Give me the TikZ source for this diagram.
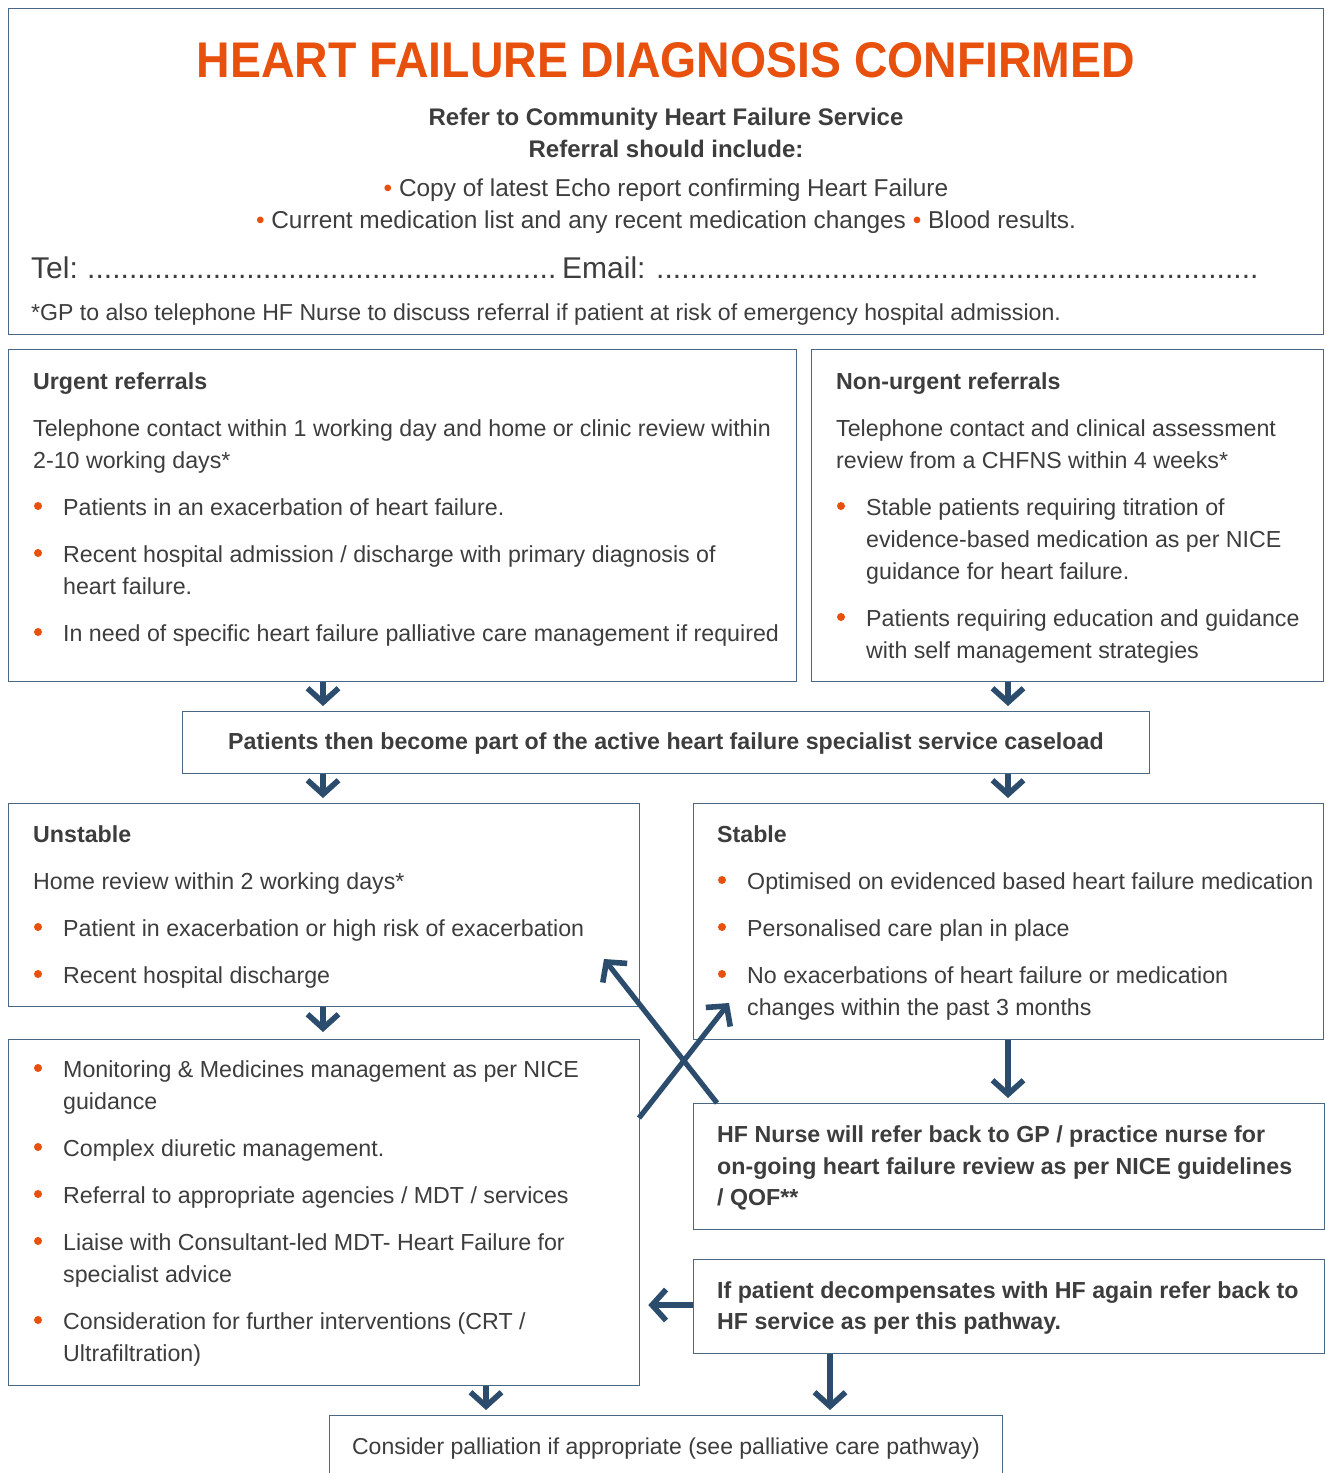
\documentclass[tikz,border=0pt]{standalone}
\usepackage{fontspec}
\usepackage{graphicx}
\setmainfont{Liberation Sans}
\usetikzlibrary{arrows.meta}
\definecolor{hforange}{HTML}{E8500E}
\definecolor{hfline}{HTML}{4A6786}
\definecolor{hfarrow}{HTML}{2B4C6D}
\definecolor{hftext}{HTML}{3D3D3D}
\begin{document}
\begin{tikzpicture}[x=1pt,y=-1pt,
 box/.style={draw=hfline, line width=1.3pt, anchor=north west, inner sep=0pt},
 txt/.style={anchor=base west, inner sep=0pt, text=hftext, font=\fontsize{23.2}{27}\selectfont},
 btxt/.style={txt, font=\fontsize{23.2}{27}\selectfont\bfseries},
 ctxt/.style={txt, anchor=base},
 cbtxt/.style={btxt, anchor=base},
 dot/.style={circle, fill=hforange, inner sep=0pt, minimum size=8pt},
 arr/.style={draw=hfarrow, line width=5.2pt, -{Straight Barb[length=14pt,width=31pt,line width=5.6pt]}}]
\useasboundingbox (0,0) rectangle (1325,1473);
\fill[white] (0,0) rectangle (1325,1473);
% boxes
\node[box, minimum width=1315pt, minimum height=326pt] (top) at (8,8) {};
\node[box, minimum width=788pt, minimum height=332pt] (urgent) at (8,349) {};
\node[box, minimum width=512pt, minimum height=332pt] (nonurgent) at (811,349) {};
\node[box, minimum width=967pt, minimum height=62pt] (caseload) at (182,711) {};
\node[box, minimum width=631pt, minimum height=203pt] (unstable) at (8,803) {};
\node[box, minimum width=630pt, minimum height=236pt] (stable) at (693,803) {};
\node[box, minimum width=631pt, minimum height=346pt] (mgmt) at (8,1039) {};
\node[box, minimum width=631pt, minimum height=126pt] (nurse) at (693,1103) {};
\node[box, minimum width=631pt, minimum height=94pt] (decomp) at (693,1259) {};
\node[box, minimum width=673pt, minimum height=70pt] (pall) at (329,1415) {};
% top box
\node[anchor=base, inner sep=0pt, text=hforange] (title) at (666,77) {\resizebox{938pt}{35pt}{\bfseries HEART FAILURE DIAGNOSIS CONFIRMED}};
\node[cbtxt, font=\fontsize{24}{28}\selectfont\bfseries] (t1) at (666,125) {Refer to Community Heart Failure Service};
\node[cbtxt, font=\fontsize{24}{28}\selectfont\bfseries] (t2) at (666,157) {Referral should include:};
\node[ctxt, font=\fontsize{24.4}{28}\selectfont] (t3) at (666,196) {{\color{hforange}•} Copy of latest Echo report confirming Heart Failure};
\node[ctxt, font=\fontsize{24.4}{28}\selectfont] (t4) at (666,228) {{\color{hforange}•} Current medication list and any recent medication changes {\color{hforange}•} Blood results.};
\node[txt, font=\fontsize{30}{34}\selectfont] (tel) at (31,278) {Tel:};
\node[txt, font=\fontsize{30}{34}\selectfont] (teld) at (87,278) {\hbox to 469pt{\xleaders\hbox{.}\hfill}};
\node[txt, font=\fontsize{30}{34}\selectfont] (email) at (562,278) {Email:};
\node[txt, font=\fontsize{30}{34}\selectfont] (emaild) at (656,278) {\hbox to 602pt{\xleaders\hbox{.}\hfill}};
\node[txt, font=\fontsize{23.1}{26}\selectfont] (foot) at (31,320) {*GP to also telephone HF Nurse to discuss referral if patient at risk of emergency hospital admission.};
% urgent
\node[btxt] (u0) at (33,389) {Urgent referrals};
\node[txt] (u1) at (33,436) {Telephone contact within 1 working day and home or clinic review within};
\node[txt] (u2) at (33,468) {2-10 working days*};
\node[dot] (ub1) at (38,506) {};
\node[txt] (u3) at (63,515) {Patients in an exacerbation of heart failure.};
\node[dot] (ub2) at (38,553) {};
\node[txt] (u4) at (63,562) {Recent hospital admission / discharge with primary diagnosis of};
\node[txt] (u5) at (63,594) {heart failure.};
\node[dot] (ub3) at (38,632) {};
\node[txt] (u6) at (63,641) {In need of specific heart failure palliative care management if required};
% non-urgent
\node[btxt] (n0) at (836,389) {Non-urgent referrals};
\node[txt] (n1) at (836,436) {Telephone contact and clinical assessment};
\node[txt] (n2) at (836,468) {review from a CHFNS within 4 weeks*};
\node[dot] (nb1) at (841,506) {};
\node[txt] (n3) at (866,515) {Stable patients requiring titration of};
\node[txt] (n4) at (866,547) {evidence-based medication as per NICE};
\node[txt] (n5) at (866,579) {guidance for heart failure.};
\node[dot] (nb2) at (841,617) {};
\node[txt] (n6) at (866,626) {Patients requiring education and guidance};
\node[txt] (n7) at (866,658) {with self management strategies};
% caseload
\node[cbtxt] (c1) at (666,749) {Patients then become part of the active heart failure specialist service caseload};
% unstable
\node[btxt] (s0) at (33,842) {Unstable};
\node[txt] (s1) at (33,889) {Home review within 2 working days*};
\node[dot] (sb1) at (38,927) {};
\node[txt] (s2) at (63,936) {Patient in exacerbation or high risk of exacerbation};
\node[dot] (sb2) at (38,974) {};
\node[txt] (s3) at (63,983) {Recent hospital discharge};
% stable
\node[btxt] (k0) at (717,842) {Stable};
\node[dot] (kb1) at (722,880) {};
\node[txt] (k1) at (747,889) {Optimised on evidenced based heart failure medication};
\node[dot] (kb2) at (722,927) {};
\node[txt] (k2) at (747,936) {Personalised care plan in place};
\node[dot] (kb3) at (722,974) {};
\node[txt] (k3) at (747,983) {No exacerbations of heart failure or medication};
\node[txt] (k4) at (747,1015) {changes within the past 3 months};
% management
\node[dot] (mb1) at (38,1068) {};
\node[txt] (m1) at (63,1077) {Monitoring \& Medicines management as per NICE};
\node[txt] (m2) at (63,1109) {guidance};
\node[dot] (mb2) at (38,1147) {};
\node[txt] (m3) at (63,1156) {Complex diuretic management.};
\node[dot] (mb3) at (38,1194) {};
\node[txt] (m4) at (63,1203) {Referral to appropriate agencies / MDT / services};
\node[dot] (mb4) at (38,1241) {};
\node[txt] (m5) at (63,1250) {Liaise with Consultant-led MDT- Heart Failure for};
\node[txt] (m6) at (63,1282) {specialist advice};
\node[dot] (mb5) at (38,1320) {};
\node[txt] (m7) at (63,1329) {Consideration for further interventions (CRT /};
\node[txt] (m8) at (63,1361) {Ultrafiltration)};
% nurse
\node[btxt] (h1) at (717,1142) {HF Nurse will refer back to GP / practice nurse for};
\node[btxt] (h2) at (717,1174) {on-going heart failure review as per NICE guidelines};
\node[btxt] (h3) at (717,1205) {/ QOF**};
% decomp
\node[btxt] (d1) at (717,1298) {If patient decompensates with HF again refer back to};
\node[btxt] (d2) at (717,1329) {HF service as per this pathway.};
% palliation
\node[ctxt, font=\fontsize{23}{27}\selectfont] (p1) at (666,1454) {Consider palliation if appropriate (see palliative care pathway)};
% arrow coordinates
\coordinate (xL) at (323,0);
\coordinate (xR) at (1008,0);
\coordinate (xM) at (486,0);
\coordinate (xD) at (830,0);
\coordinate (crossAs) at (639,1118);
\coordinate (crossAe) at (729,1003);
\coordinate (crossBs) at (717,1103);
\coordinate (crossBe) at (604,959);
\coordinate (yD) at (0,1305);
% arrows
\draw[arr] (urgent.south -| xL) -- ([yshift=5pt]caseload.north -| xL);
\draw[arr] (nonurgent.south -| xR) -- ([yshift=5pt]caseload.north -| xR);
\draw[arr] (caseload.south -| xL) -- ([yshift=5pt]unstable.north -| xL);
\draw[arr] (caseload.south -| xR) -- ([yshift=5pt]stable.north -| xR);
\draw[arr] (unstable.south -| xL) -- ([yshift=7pt]mgmt.north -| xL);
\draw[arr] (stable.south -| xR) -- ([yshift=5pt]nurse.north -| xR);
\draw[arr] (crossAs) -- (crossAe);
\draw[arr] (crossBs) -- (crossBe);
\draw[arr] (decomp.west |- yD) -- ([xshift=8pt]mgmt.east |- yD);
\draw[arr] (mgmt.south -| xM) -- ([yshift=5pt]pall.north -| xM);
\draw[arr] (decomp.south -| xD) -- ([yshift=5pt]pall.north -| xD);
\end{tikzpicture}
\end{document}
